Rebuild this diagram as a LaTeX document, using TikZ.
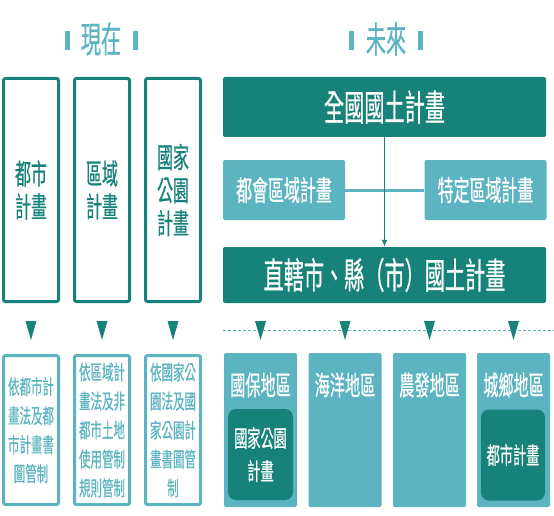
\documentclass[tikz,border=0pt]{standalone}
\usepackage{fontspec}
\newfontfamily\cjk[FakeStretch=0.56, FakeBold=0.5]{Noto Sans CJK TC}
\usetikzlibrary{arrows.meta, calc}
\definecolor{tealdark}{RGB}{22,130,122}
\definecolor{teallight}{RGB}{92,180,192}

\begin{document}
\begin{tikzpicture}[x=1pt, y=-1pt, >={Latex[length=7pt, width=6pt]},
  every node/.style={font=\cjk, align=center, inner sep=0pt},
  headtext/.style={text=teallight, font=\cjk\fontsize{36}{36}\selectfont},
  oldplan/.style={draw=tealdark, line width=3pt, fill=white, rounded corners=2pt, minimum width=55pt, minimum height=223pt, text=tealdark, font=\cjk\fontsize{28.5}{33}\selectfont},
  oldrule/.style={draw=teallight, line width=3pt, fill=white, rounded corners=2pt, minimum width=55pt, minimum height=149pt, text=teallight, font=\cjk\fontsize{20.5}{29}\selectfont},
  mainplan/.style={fill=tealdark, rounded corners=2pt, minimum width=323pt, text=white, font=\cjk\fontsize{36}{36}\selectfont},
  subplan/.style={fill=teallight, rounded corners=2pt, minimum width=122pt, minimum height=60pt, text=white, font=\cjk\fontsize{28.5}{28.5}\selectfont},
  zone/.style={fill=teallight, rounded corners=2pt, minimum width=73pt, minimum height=154pt},
  zonename/.style={text=white, font=\cjk\fontsize{27}{27}\selectfont},
  innerplan/.style={fill=tealdark, rounded corners=8pt, minimum width=65pt, minimum height=91pt, text=white, font=\cjk\fontsize{23.5}{33}\selectfont}]
\useasboundingbox (0,0) rectangle (554,516);
% headings
\node[headtext] (now) at (101,39) {現在};
\node[headtext] (future) at (386,39) {未來};
\fill[teallight] (65,31) rectangle (70,50); \fill[teallight] (133,31) rectangle (138,50);
\fill[teallight] (349,31) rectangle (354,50); \fill[teallight] (418,31) rectangle (423,50);
% now
\node[oldplan] (A1) at (31,190) {都市\\計畫};
\node[oldplan] (A2) at (102,190) {區域\\計畫};
\node[oldplan] (A3) at (173,190) {國家\\公園\\計畫};
\node[oldrule] (B1) at (31,430) {依都市計\\畫法及都\\市計畫書\\圖管制};
\node[oldrule] (B2) at (102,430) {依區域計\\畫法及非\\都市土地\\使用管制\\規則管制};
\node[oldrule] (B3) at (173,430) {依國家公\\園法及國\\家公園計\\畫書圖管\\制};
% future
\node[mainplan, minimum height=60pt] (P1) at (384.5,107) {全國國土計畫};
\node[subplan] (P2) at (284,190) {都會區域計畫};
\node[subplan] (P3) at (485.5,190) {特定區域計畫};
\node[mainplan, minimum height=56pt] (P4) at (384.5,275) {直轄市、縣（市）國土計畫};
\draw[teallight, line width=3pt] (P2) -- (P3);
\draw[->, tealdark, line width=1.8pt] (P1) -- (P4);
\coordinate (D0) at (223,330); \coordinate (D1) at (554,330);
\draw[teallight, dash pattern=on 3pt off 2pt] (D0) -- (D1);
\foreach \x in {31,102,173,260.5,345,429.5,513.5} \fill[tealdark] (\x-5.5,321) -- (\x+5.5,321) -- (\x,340) -- cycle;
\node[zone] (Z1) at (260.5,430) {}; \node[zone] (Z2) at (345,430) {};
\node[zone] (Z3) at (429.5,430) {}; \node[zone] (Z4) at (513.5,430) {};
\node[zonename] (N1) at (260.5,385) {國保地區}; \node[zonename] (N2) at (345,385) {海洋地區};
\node[zonename] (N3) at (429.5,385) {農發地區}; \node[zonename] (N4) at (513.5,385) {城鄉地區};
\node[innerplan] (I1) at (260.5,454.5) {國家公園\\計畫};
\node[innerplan, minimum width=64pt] (I2) at (513,455) {都市計畫};
\end{tikzpicture}
\end{document}
